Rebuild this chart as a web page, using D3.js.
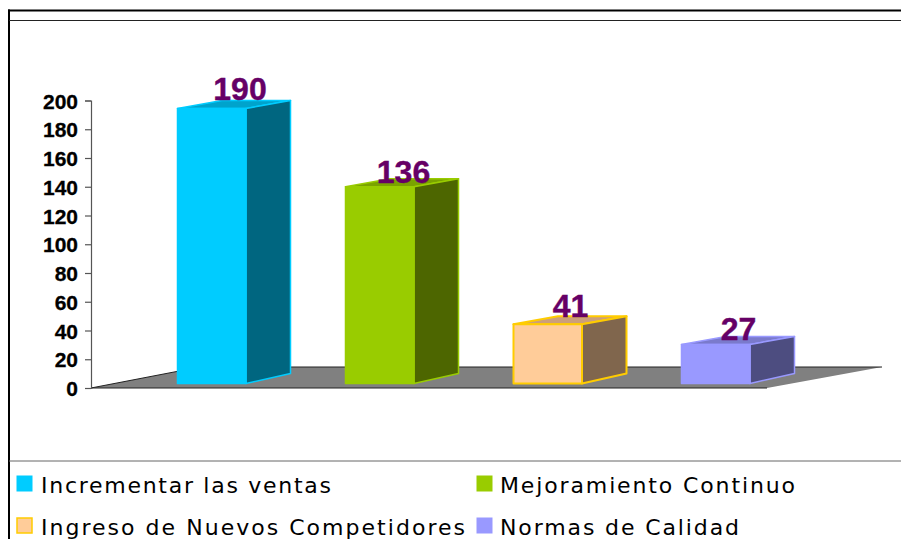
<!DOCTYPE html>
<html><head><meta charset="utf-8">
<script src="https://cdn.jsdelivr.net/npm/d3@7"></script>
<style>html,body{margin:0;padding:0;background:#fff}svg{display:block}</style>
</head><body><div id="c"></div>
<script>
const categories = ["Incrementar las ventas","Mejoramiento Continuo","Ingreso de Nuevos Competidores","Normas de Calidad"];
const values = [190,136,41,27];
const tickValues = [0,20,40,60,80,100,120,140,160,180,200];
const frontColors = ["#00ccff","#99cc00","#ffcc99","#9999ff"];
const sideColors = ["#006680","#4d6600","#80664d","#4d4d80"];
const topColors = ["#00a3cc","#7aa300","#cc9f7a","#7a7acc"];
const edgeColors = ["#00ccff","#99cc00","#ffcc00","#9999ff"];

const W=901,H=539, barW=68.5, depthX=44.5, depthTop=8, depthBottom=10;
const labelDx=[62.5,58,57,57], labelDy=[-9,-4,-7,-4];
const legendWidths=[290,295,424,239];
const svg=d3.select("#c").append("svg").attr("width",W).attr("height",H);

// frame
svg.append("rect").attr("width",W).attr("height",H).attr("fill","#fff");
svg.append("line").attr("x1",9).attr("x2",9).attr("y1",9.5).attr("y2",H).attr("stroke","#000").attr("stroke-width",2);
svg.append("line").attr("x1",8).attr("x2",W).attr("y1",10.5).attr("y2",10.5).attr("stroke","#000").attr("stroke-width",2);
svg.append("line").attr("x1",9).attr("x2",W).attr("y1",20.5).attr("y2",20.5).attr("stroke","#222").attr("stroke-width",1);
svg.append("line").attr("x1",9).attr("x2",W).attr("y1",461).attr("y2",461).attr("stroke","#666").attr("stroke-width",1);

// scales
const yAxisScale=d3.scaleLinear().domain([0,200]).range([388,100.5]);
const yBar=d3.scaleLinear().domain([0,190]).range([383.5,108.5]);
const x=d3.scalePoint().domain(categories).range([177.5,681.5]);

// floor
svg.append("path").attr("d",d3.line()([[91,388],[767,388],[882,367],[200,367]])+"Z")
  .attr("fill","#808080");
svg.append("path").attr("d",d3.line()([[882,367],[200,367],[91,388],[767,388]]))
  .attr("fill","none").attr("stroke","#222").attr("stroke-width",1);

// axis
const ax=svg.append("g").attr("transform","translate(91,0)").call(d3.axisLeft(yAxisScale).tickValues(tickValues).tickSize(6).tickPadding(6));
ax.selectAll("path,line").attr("stroke","#555").attr("stroke-width",1.2);
ax.selectAll("text").attr("font-family","'Liberation Sans',Arial,sans-serif").attr("font-weight","bold").attr("font-size",21)
  .attr("fill","#000").attr("stroke","#000").attr("stroke-width",0.3).attr("dy","0.36em").attr("x",-13);

// bars
const line=d3.line();
categories.forEach((c,i)=>{
  const x0=x(c), x1=x0+barW, yt=yBar(values[i]), yb=yBar(0);
  const edge=edgeColors[i], sw=i==2?2:1.5;
  const g=svg.append("g");
  const poly=(pts,fill)=>g.append("path").attr("d",line(pts)+"Z").attr("fill",fill).attr("stroke",edge).attr("stroke-width",sw).attr("stroke-linejoin","round");
  poly([[x0,yt],[x0+depthX,yt-depthTop],[x1+depthX,yt-depthTop],[x1,yt]],topColors[i]);
  poly([[x1,yt],[x1+depthX,yt-depthTop],[x1+depthX,yb-depthBottom],[x1,yb]],sideColors[i]);
  poly([[x0,yt],[x1,yt],[x1,yb],[x0,yb]],frontColors[i]);
  svg.append("text").attr("x",x0+labelDx[i]).attr("y",yt+labelDy[i]).attr("text-anchor","middle")
    .attr("font-family","'Liberation Sans',Arial,sans-serif").attr("font-weight","bold").attr("font-size",32)
    .attr("fill","#660066").attr("stroke","#660066").attr("stroke-width",0.4).text(values[i]);
});

// legend
const legX=[17,477], legY=[484,526];
categories.forEach((c,i)=>{
  const lx=legX[i%2], ly=legY[Math.floor(i/2)];
  svg.append("rect").attr("x",lx).attr("y",ly-8).attr("width",15).attr("height",15)
    .attr("fill",frontColors[i]).attr("stroke",edgeColors[i]).attr("stroke-width",i==2?1.5:1);
  svg.append("text").attr("x",lx+(i%2?23:24)).attr("y",ly+9)
    .attr("font-family","'DejaVu Sans',Verdana,sans-serif").attr("font-size",22)
    .attr("textLength",legendWidths[i]).attr("lengthAdjust","spacing")
    .attr("fill","#000").text(c);
});
</script></body></html>
